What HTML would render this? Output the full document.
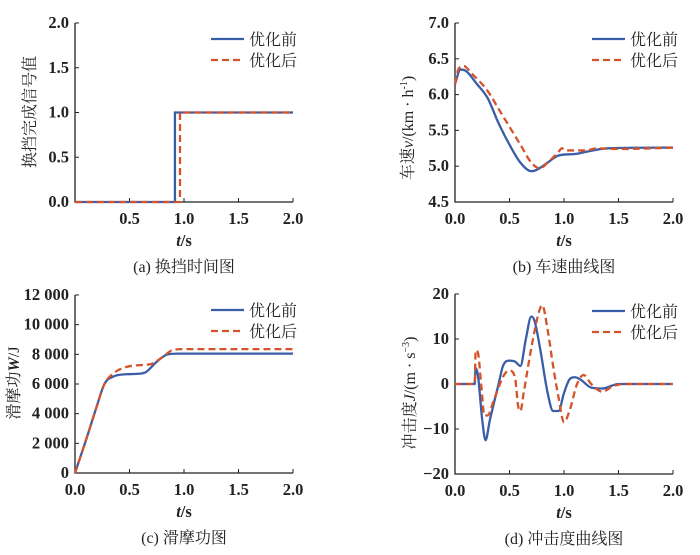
<!DOCTYPE html>
<html><head><meta charset="utf-8"><style>
body{margin:0;background:#fff;}
svg{display:block;}
text{font-family:"Liberation Serif","Noto Serif CJK SC",serif;fill:#222;}
.tk{font-size:16.5px;font-weight:bold;}
.cj{font-family:"Liberation Serif","Noto Serif CJK SC",serif;font-size:16px;}
</style></head><body>
<svg id="c" width="700" height="555" viewBox="0 0 700 555"></svg>
<script>
// ---- data ----
const stepX = [0.917, 0.963];
const speedT_before = [0,0.05,0.1,0.2,0.3,0.4,0.5,0.6,0.7,0.75,0.85,0.95,1.1,1.2,1.4,2.0];
const speedV_before = [6.15,6.35,6.33,6.15,5.95,5.6,5.3,5.05,4.93,4.95,5.05,5.15,5.17,5.2,5.25,5.26];
const speedT_after = [0,0.03,0.08,0.15,0.3,0.4,0.5,0.6,0.7,0.78,0.85,0.95,0.98,1.02,1.1,1.2,1.3,1.5,2.0];
const speedV_after = [6.15,6.35,6.4,6.3,6.05,5.8,5.55,5.3,5.05,4.97,5.05,5.2,5.25,5.22,5.22,5.22,5.25,5.24,5.26];
const workT_before = [0,0.1,0.2,0.27,0.35,0.45,0.6,0.65,0.75,0.85,0.95,2.0];
const workV_before = [0,2200,4500,6000,6500,6650,6700,6800,7500,8000,8050,8050];
const workT_after = [0,0.1,0.2,0.27,0.35,0.45,0.55,0.7,0.8,0.9,1.0,2.0];
const workV_after = [0,2200,4500,6000,6700,7100,7250,7350,7800,8300,8350,8350];
const jerkT_before = [0,0.18,0.19,0.21,0.25,0.28,0.32,0.4,0.44,0.5,0.55,0.6,0.65,0.7,0.73,0.78,0.85,0.9,0.95,1.0,1.05,1.1,1.15,1.25,1.35,1.5,2.0];
const jerkV_before = [0,0,3.5,2,-8,-12.5,-8,0,4,5.2,5,4,10,15,14,8,-2,-6,-6,-2,1,1.5,1,-0.8,-1,0,0];
const jerkT_after = [0,0.18,0.19,0.21,0.24,0.27,0.3,0.35,0.45,0.5,0.55,0.58,0.6,0.63,0.7,0.77,0.8,0.85,0.9,0.95,1.0,1.05,1.12,1.18,1.25,1.35,1.45,1.55,2.0];
const jerkV_after = [0,0,7.5,7,0,-7,-7,-4,2,3,1.5,-5,-6,-2,8,16,17.5,12,4,-3,-8.5,-6,0,2,0,-1.7,-0.5,0,0];

const BLUE="#3a5da8", RED="#d4532a";
const svg=document.getElementById('c');
const NS="http://www.w3.org/2000/svg";
function mk(tag,attrs,parent){const e=document.createElementNS(NS,tag);for(const k in attrs)e.setAttribute(k,attrs[k]);(parent||svg).appendChild(e);return e;}
// monotone cubic (no overshoot)
function smooth(p){const n=p.length,d=[],m=[];
 for(let i=0;i<n-1;i++)d.push((p[i+1][1]-p[i][1])/(p[i+1][0]-p[i][0]));
 m[0]=d[0];m[n-1]=d[n-2];
 for(let i=1;i<n-1;i++){m[i]=(d[i-1]*d[i]<=0)?0:(d[i-1]+d[i])/2;}
 for(let i=0;i<n-1;i++){if(d[i]===0){m[i]=0;m[i+1]=0;continue;}const a=m[i]/d[i],b=m[i+1]/d[i],s=a*a+b*b;if(s>9){const t=3/Math.sqrt(s);m[i]=t*a*d[i];m[i+1]=t*b*d[i];}}
 let s="M"+p[0][0]+","+p[0][1];
 for(let i=0;i<n-1;i++){const h=(p[i+1][0]-p[i][0])/3;s+=" C"+(p[i][0]+h)+","+(p[i][1]+m[i]*h)+" "+(p[i+1][0]-h)+","+(p[i+1][1]-m[i+1]*h)+" "+p[i+1][0]+","+p[i+1][1];}
 return s;}

function panel(o){
  const g=mk('g',{});
  
  
  const sx=v=>o.x0+(v-o.xmin)/(o.xmax-o.xmin)*(o.x1-o.x0);
  const sy=v=>o.y0-(v-o.ymin)/(o.ymax-o.ymin)*(o.y0-o.y1);
  const ax=mk('path',{d:`M${o.x0},${o.y1} V${o.y0} H${o.x1}`,stroke:"#222","stroke-width":1.3,fill:"none"},g);
  
  
  o.xt.forEach((v,i)=>{const X=sx(v);mk('line',{x1:X,x2:X,y1:o.y0,y2:o.y0-4,stroke:"#222"},g);
    if(o.xl[i]!==""){const t=mk('text',{x:X,y:o.y0+22,'text-anchor':'middle',class:'tk'},g);t.textContent=o.xl[i];
    }});
  o.yt.forEach((v,i)=>{const Y=sy(v);mk('line',{x1:o.x0,x2:o.x0+4,y1:Y,y2:Y,stroke:"#222"},g);
    const t=mk('text',{x:o.x0-6,y:Y+5,'text-anchor':'end',class:'tk'},g);t.textContent=o.yl[i];
    });
  o.series.forEach(s=>{let d;
    if(s.step){d=`M${sx(0)},${sy(0)} H${sx(s.step)} V${sy(1)} H${sx(2)}`;}
    else d=smooth(s.t.map((v,i)=>[sx(v),sy(s.v[i])]));
    const p=mk('path',{d:d,stroke:s.c,'stroke-width':2.3,fill:'none','stroke-dasharray':s.dash?'7,4':'none'},g);
    });
  [[BLUE,false,'优化前',o.ly],[RED,true,'优化后',o.ly+21]].forEach(L=>{
    const ln=mk('line',{x1:o.lx,x2:o.lx+33,y1:L[3],y2:L[3],stroke:L[0],'stroke-width':2.3,'stroke-dasharray':L[1]?'7,4':'none'},g);
    
    const t=mk('text',{x:o.lx+38,y:L[3]+6,class:'cj'},g);t.textContent=L[2];
    });
  const xt=mk('text',{x:(o.x0+o.x1)/2,y:o.y0+44,'text-anchor':'middle',class:'tk'},g);
  xt.innerHTML='<tspan font-style="italic">t</tspan>/s';
  
  const yt=mk('text',{transform:`translate(${o.ytx},${o.yty}) rotate(-90)`,'text-anchor':'middle',class:'cj'},g);
  yt.innerHTML=o.ytitle;
  
  const cp=mk('text',{x:o.capx,y:o.y0+70,'text-anchor':'middle',class:'cj','font-size':'17'},g);cp.textContent=o.cap;
  
}
panel({name:'shift-time-chart',x0:75,x1:293,y0:202,y1:23,xmin:0,xmax:2,ymin:0,ymax:2,
 xt:[0.5,1,1.5,2],xl:['0.5','1.0','1.5','2.0'],yt:[0,0.5,1,1.5,2],yl:['0.0','0.5','1.0','1.5','2.0'],
 series:[{step:stepX[0],c:BLUE,n:'before-step-line'},{step:stepX[1],c:RED,dash:1,n:'after-step-line'}],
 lx:211,ly:39,ytx:35,yty:112,ytitle:'换挡完成信号值',cap:'(a) 换挡时间图',capx:184});
panel({name:'speed-chart',x0:455,x1:673,y0:202,y1:23,xmin:0,xmax:2,ymin:4.5,ymax:7,
 xt:[0,0.5,1,1.5,2],xl:['0.0','0.5','1.0','1.5','2.0'],yt:[4.5,5,5.5,6,6.5,7],yl:['4.5','5.0','5.5','6.0','6.5','7.0'],
 series:[{t:speedT_before,v:speedV_before,c:BLUE,n:'before-speed-line'},{t:speedT_after,v:speedV_after,c:RED,dash:1,n:'after-speed-line'}],
 lx:592,ly:39,ytx:413,yty:128,ytitle:'车速<tspan font-style="italic">v</tspan>/(km · h<tspan dy="-6" font-size="10">-1</tspan><tspan dy="6">)</tspan>',cap:'(b) 车速曲线图',capx:564});
panel({name:'friction-work-chart',x0:75,x1:293,y0:473,y1:295,xmin:0,xmax:2,ymin:0,ymax:12000,
 xt:[0,0.5,1,1.5,2],xl:['0.0','0.5','1.0','1.5','2.0'],yt:[0,2000,4000,6000,8000,10000,12000],yl:['0','2 000','4 000','6 000','8 000','10 000','12 000'],
 series:[{t:workT_before,v:workV_before,c:BLUE,n:'before-work-line'},{t:workT_after,v:workV_after,c:RED,dash:1,n:'after-work-line'}],
 lx:211,ly:310,ytx:19,yty:383,ytitle:'滑摩功<tspan font-style="italic" font-weight="bold">W</tspan>/J',cap:'(c) 滑摩功图',capx:184});
panel({name:'jerk-chart',x0:455,x1:673,y0:474,y1:294,xmin:0,xmax:2,ymin:-20,ymax:20,
 xt:[0,0.5,1,1.5,2],xl:['0.0','0.5','1.0','1.5','2.0'],yt:[-20,-10,0,10,20],yl:['−20','−10','0','10','20'],
 series:[{t:jerkT_before,v:jerkV_before,c:BLUE,n:'before-jerk-line'},{t:jerkT_after,v:jerkV_after,c:RED,dash:1,n:'after-jerk-line'}],
 lx:592,ly:311,ytx:415,yty:393,ytitle:'冲击度<tspan font-style="italic">J</tspan>/(m · s<tspan dy="-6" font-size="10">−3</tspan><tspan dy="6">)</tspan>',cap:'(d) 冲击度曲线图',capx:564});
</script>
</body></html>
